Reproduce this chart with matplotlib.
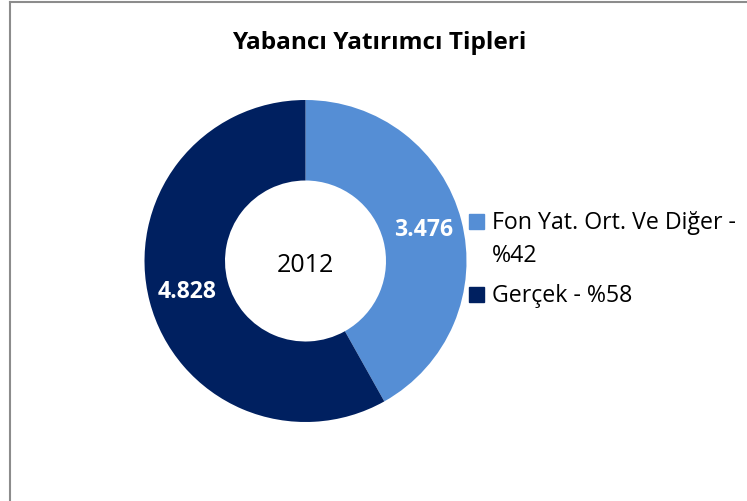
import matplotlib
matplotlib.use("Agg")
import matplotlib.pyplot as plt
from matplotlib.patches import Rectangle
import numpy as np

plt.rcParams['font.family'] = ['Open Sans', 'DejaVu Sans']

# ---- data ----
title = "Yabancı Yatırımcı Tipleri"
year_label = "2012"
categories = ["Fon Yat. Ort. Ve Diğer", "Gerçek"]
values = [3476, 4828]
colors = ["#558ED5", "#002060"]

total = sum(values)
pcts = [round(v / total * 100) for v in values]

def fmt_tr(v):
    return f"{v:,}".replace(",", ".")

W, H, DPI = 747, 501, 100
fig = plt.figure(figsize=(W / DPI, H / DPI), dpi=DPI)

# frame (only left and top edges visible in the reference)
fig.add_artist(plt.Line2D([10 / W, 10 / W], [0, 1 - 2 / H], color="#8c8c8c", lw=1.5))
fig.add_artist(plt.Line2D([10 / W, 1], [1 - 2 / H, 1 - 2 / H], color="#8c8c8c", lw=1.5))

# donut axes
cx, cy, r = 305.5, 261, 161
ax = fig.add_axes([(cx - r) / W, (H - cy - r) / H, 2 * r / W, 2 * r / H])
wedges, _ = ax.pie(values, colors=colors, startangle=90, counterclock=False,
                   radius=1, wedgeprops=dict(width=0.5, linewidth=0))
for w, v in zip(wedges, values):
    ang = np.deg2rad((w.theta1 + w.theta2) / 2)
    ax.text(0.76 * np.cos(ang), 0.75 * np.sin(ang), fmt_tr(v), ha="center", va="center",
            color="white", fontsize=16.6, fontweight="bold")
ax.text(0, -0.03, year_label, ha="center", va="center", fontsize=18, color="black")
ax.set_xlim(-1, 1)
ax.set_ylim(-1, 1)
ax.set_aspect("equal")
ax.axis("off")

# title
fig.text(379 / W, 1 - 49 / H, title, ha="center", va="baseline", fontsize=17.6,
         fontweight="bold", color="black")

# legend (manual)
leg_lines = [[f"{categories[0]} -", f"%{pcts[0]}"], [f"{categories[1]} - %{pcts[1]}"]]
baselines = [[229, 262], [302]]
for lines, bls, col in zip(leg_lines, baselines, colors):
    fig.add_artist(Rectangle((469 / W, 1 - bls[0] / H), 15 / W, 15 / H, color=col,
                             transform=fig.transFigure))
    for txt, bl in zip(lines, bls):
        fig.text(492 / W, 1 - bl / H, txt, ha="left", va="baseline", fontsize=16.7, color="black")

fig.savefig("out.png", dpi=DPI)
